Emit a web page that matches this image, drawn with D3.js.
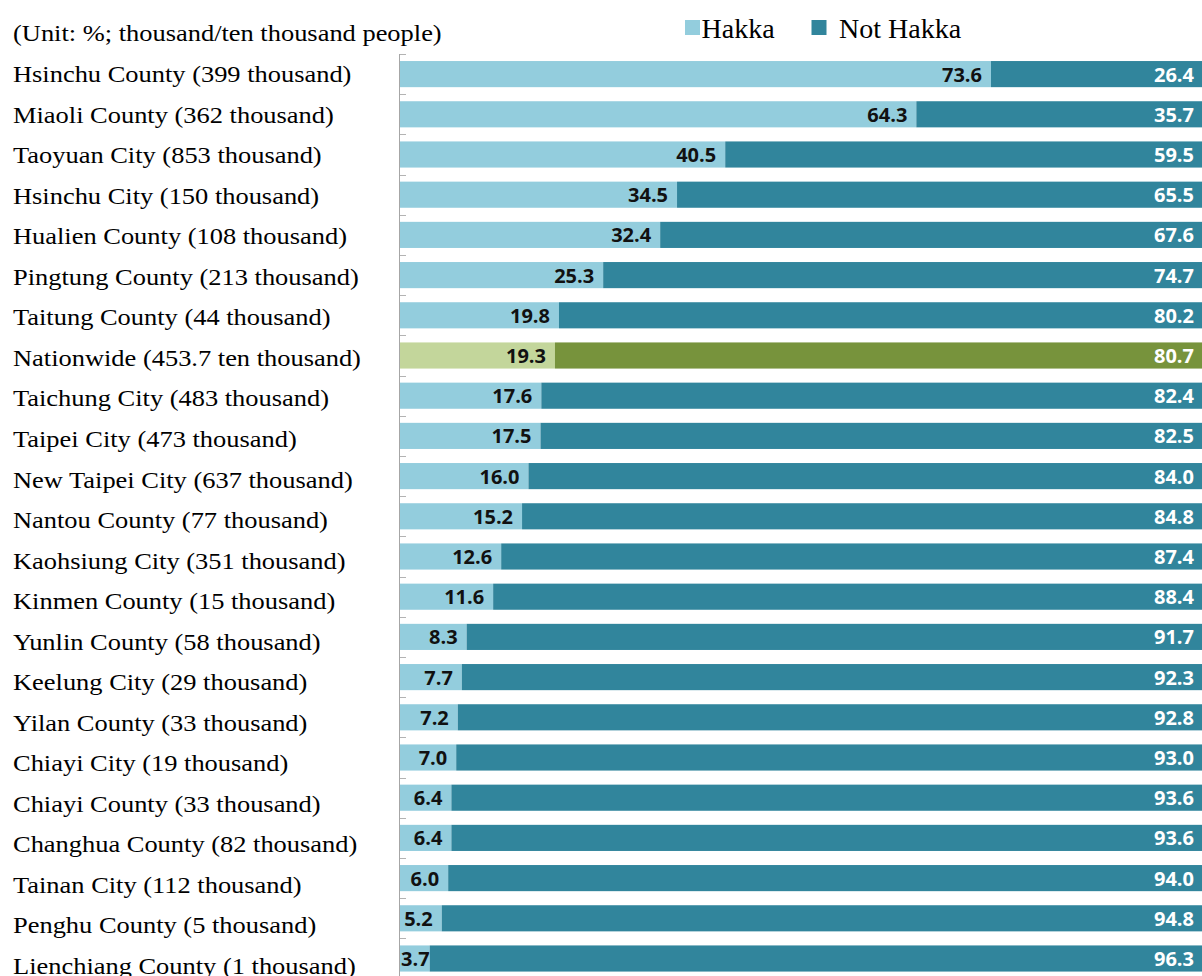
<!DOCTYPE html>
<html>
<head>
<meta charset="utf-8">
<script src="https://cdn.jsdelivr.net/npm/d3@7"></script>
<style>
  body { margin: 0; background: #fff; }
  svg { display: block; }
</style>
</head>
<body>
<div id="chart"></div>
<script>
var regions = ["Hsinchu County (399 thousand)", "Miaoli County (362 thousand)", "Taoyuan City (853 thousand)",
  "Hsinchu City (150 thousand)", "Hualien County (108 thousand)", "Pingtung County (213 thousand)",
  "Taitung County (44 thousand)", "Nationwide (453.7 ten thousand)", "Taichung City (483 thousand)",
  "Taipei City (473 thousand)", "New Taipei City (637 thousand)", "Nantou County (77 thousand)",
  "Kaohsiung City (351 thousand)", "Kinmen County (15 thousand)", "Yunlin County (58 thousand)",
  "Keelung City (29 thousand)", "Yilan County (33 thousand)", "Chiayi City (19 thousand)",
  "Chiayi County (33 thousand)", "Changhua County (82 thousand)", "Tainan City (112 thousand)",
  "Penghu County (5 thousand)", "Lienchiang County (1 thousand)"];
var hakka = [73.6, 64.3, 40.5, 34.5, 32.4, 25.3, 19.8, 19.3, 17.6, 17.5, 16.0, 15.2, 12.6, 11.6,
  8.3, 7.7, 7.2, 7.0, 6.4, 6.4, 6.0, 5.2, 3.7];
var notHakka = [26.4, 35.7, 59.5, 65.5, 67.6, 74.7, 80.2, 80.7, 82.4, 82.5, 84.0, 84.8, 87.4, 88.4,
  91.7, 92.3, 92.8, 93.0, 93.6, 93.6, 94.0, 94.8, 96.3];
var seriesNames = ["Hakka", "Not Hakka"];
var unitText = "(Unit: %; thousand/ten thousand people)";

var w = 1202, h = 976;
var colors = {"Hakka": "#93cddd", "Not Hakka": "#31859c"};
var natColors = {"Hakka": "#c3d69b", "Not Hakka": "#77933c"};
var serif = "'Liberation Serif', 'Times New Roman', serif";

var svg = d3.select("#chart").append("svg")
  .attr("width", w)
  .attr("height", h);

var rows = regions.map(function(r, i){
  return {region: r, Hakka: hakka[i], "Not Hakka": notHakka[i]};
});
var stacked = d3.stack().keys(seriesNames)(rows);

var x = d3.scaleLinear().domain([0, 100]).range([400, 1203]);
var y = d3.scaleBand().domain(regions).range([54, 54 + 40.2 * regions.length])
  .paddingInner(0.35).paddingOuter(0.175);
// the category text runs on a slightly wider pitch than the bars
var yLab = d3.scalePoint().domain(regions).range([82.3, 82.3 + 40.52 * (regions.length - 1)]);

// axis line + ticks at band boundaries
svg.append("line")
  .attr("x1", 399.5).attr("x2", 399.5)
  .attr("y1", y.range()[0]).attr("y2", h)
  .style("stroke", "#a6a6a6").style("stroke-width", 1);
svg.selectAll(".tick")
  .data(d3.range(regions.length + 1))
  .enter().append("line")
    .attr("x1", 400).attr("x2", 406)
    .attr("y1", function(d){ return Math.round(y.range()[0] + d * y.step()) + 0.5; })
    .attr("y2", function(d){ return Math.round(y.range()[0] + d * y.step()) + 0.5; })
    .style("stroke", "#b3b3b3");

// bars
stacked.forEach(function(s){
  svg.selectAll(".bar-" + s.index)
    .data(s)
    .enter().append("rect")
      .attr("x", function(d){ return x(d[0]); })
      .attr("y", function(d){ return y(d.data.region); })
      .attr("width", function(d){ return x(d[1]) - x(d[0]); })
      .attr("height", y.bandwidth())
      .style("fill", function(d){
        return d.data.region.indexOf("Nationwide") == 0 ? natColors[s.key] : colors[s.key];
      });

  svg.selectAll(".lab-" + s.index)
    .data(s)
    .enter().append("text")
      .attr("y", function(d){ return y(d.data.region) + y.bandwidth() / 2 + 7.5; })
      .style("text-anchor", "end")
      .style("font-family", "'Open Sans'")
      .style("font-weight", "bold")
      .style("font-size", "20px")
      .style("fill", s.key == "Hakka" ? "#111" : "#fff")
      .text(function(d){ return (d[1] - d[0]).toFixed(1); })
      .attr("x", function(d){
        var end = x(d[1]) - 9;
        var tw = this.getComputedTextLength();
        return Math.max(end, x(d[0]) + 1 + tw);
      });
});

// category labels
svg.selectAll(".cat")
  .data(regions)
  .enter().append("text")
    .attr("transform", function(d){ return "translate(13," + yLab(d) + ") scale(1.15,1)"; })
    .style("font-family", serif)
    .style("font-size", "23px")
    .style("fill", "#000")
    .text(function(d){ return d; });

svg.append("text")
  .attr("transform", "translate(13,41) scale(1.15,1)")
  .style("font-family", serif)
  .style("font-size", "23px")
  .text(unitText);

// legend
var legX = [685, 811.5];
var leg = svg.selectAll(".leg")
  .data(seriesNames)
  .enter().append("g")
    .attr("transform", function(d, i){ return "translate(" + legX[i] + ",20)"; });
leg.append("rect")
  .attr("width", 15).attr("height", 15)
  .style("fill", function(d){ return colors[d]; });
leg.append("text")
  .attr("x", function(d, i){ return i == 0 ? 16.5 : 27.5; })
  .attr("y", 18.3)
  .style("font-family", serif)
  .style("font-size", "28px")
  .text(function(d){ return d; });
</script>
</body>
</html>
